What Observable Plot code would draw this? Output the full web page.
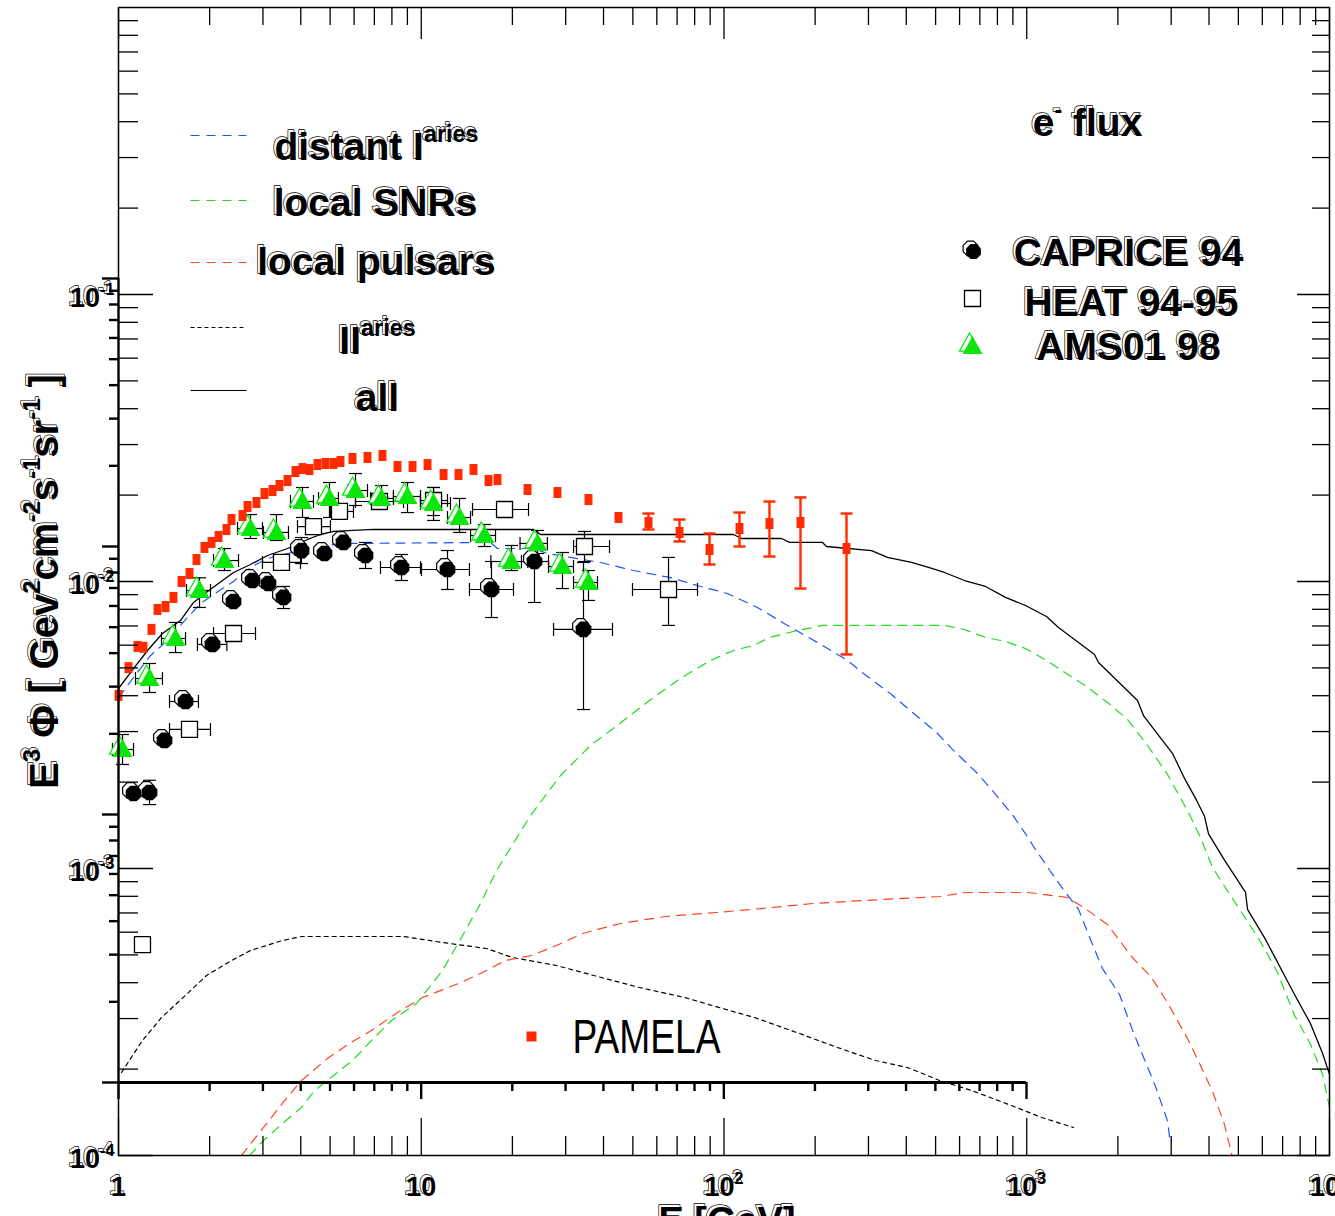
<!DOCTYPE html>
<html><head><meta charset="utf-8">
<script src="https://cdn.jsdelivr.net/npm/d3@7"></script>
<script src="https://cdn.jsdelivr.net/npm/@observablehq/plot@0.6"></script>
<style>
html,body{margin:0;padding:0;background:#fff;overflow:hidden;}
#wrap{position:relative;width:1335px;height:1240px;}
#wrap svg{position:absolute;left:0;top:0;}
</style></head><body><div id="wrap"></div>
<script>
// ---------------- DATA ----------------
// PAMELA e- points
const pamelaE = [1.0,1.079,1.155,1.209,1.285,1.345,1.430,1.519,1.615,1.716,1.810,1.923,2.029,2.140,2.274,2.362,2.568,2.668,2.856,3.035,3.227,3.402,3.616,3.842,4.053,4.275,4.543,4.828,5.131,5.411,5.928,6.644,7.447,8.348,9.357,10.49,11.85,13.28,14.88,16.68,17.86,22.44,28.18,35.68,44.83,56.31,71.29,89.57,112.5,141.3,178.9,253.9];
const pamelaF = [0.00401,0.00501,0.00594,0.00590,0.00681,0.00799,0.00818,0.00880,0.0100,0.01066,0.01193,0.01314,0.01368,0.01435,0.01518,0.01644,0.01698,0.01825,0.01885,0.02025,0.02075,0.02160,0.02248,0.02416,0.02475,0.02455,0.02556,0.02577,0.02577,0.02619,0.02683,0.02705,0.02748,0.02516,0.02516,0.02556,0.02359,0.02359,0.02456,0.02248,0.02266,0.02092,0.02042,0.01931,0.01671,0.01605,0.01482,0.01293,0.0153,0.01592,0.01605,0.01303];
const pamelaErrE  = [56.31,71.29,89.57,112.5,141.3,178.9,253.9];
const pamelaErrLo = [0.01518,0.01379,0.01146,0.01324,0.01222,0.00945,0.00557];
const pamelaErrHi = [0.01725,0.01644,0.0147,0.01739,0.019,0.01963,0.01725];

// CAPRICE 94
const capE = [1.121,1.266,1.419,1.665,2.044,2.398,2.771,3.129,3.508,4.022,4.791,5.536,6.544,8.606,12.21,17.06,23.66,34.35];
const capF = [0.001825,0.00184,0.002793,0.003818,0.006034,0.008518,0.01008,0.00984,0.0088,0.01282,0.01252,0.01368,0.01232,0.01119,0.01101,0.00938,0.01174,0.00681];
const capYLo = [null,0.00167,null,null,null,null,null,null,0.00805,0.01155,null,null,0.0111,0.01008,0.00938,0.00749,0.00845,0.00358];
const capYHi = [null,0.00203,null,null,null,null,null,null,0.00961,0.01423,null,null,0.01368,0.01242,0.01282,0.01174,0.01324,0.01165];
const capXLo = [null,null,null,1.474,1.823,null,null,null,null,null,null,null,null,7.335,10.02,14.43,21.43,27.35];
const capXHi = [null,null,null,1.837,2.28,null,null,null,null,null,null,null,null,9.943,14.43,20.17,26.33,42.83];

// HEAT 94-95
const heatE = [1.200,1.716,2.398,3.454,4.406,5.370,7.278,10.98,18.84,34.61,65.58];
const heatF = [0.000543,0.003051,0.00659,0.01165,0.01554,0.01754,0.019,0.01915,0.01782,0.01324,0.00938];
const heatXLo = [null,1.474,2.060,2.989,3.901,5.013,6.065,9.943,14.77,31.84,49.86];
const heatXHi = [null,2.013,2.835,3.993,5.013,5.972,8.738,12.21,22.61,41.87,81.75];
const heatYLo = [null,null,null,null,null,null,null,0.01698,null,0.01174,0.00703];
const heatYHi = [null,null,null,null,null,null,null,0.02126,null,0.01494,0.01213];

// AMS01 98
const amsE = [1.031,1.266,1.543,1.852,2.239,2.729,3.325,4.053,4.976,6.065,7.391,9.007,10.98,13.38,16.18,19.87,24.21,29.28,35.68];
const amsF = [0.002598,0.004592,0.006331,0.009303,0.01183,0.0153,0.01482,0.019,0.01947,0.02075,0.01947,0.01978,0.0187,0.01671,0.01447,0.01174,0.01357,0.01128,0.00992];
const amsXLo = [0.955,1.138,1.387,1.677,2.06,2.472,3.012,3.699,4.578,5.733,6.8,8.094,9.943,12.21,14.55,16.98,21.2,26.33,31.84];
const amsXHi = [1.121,1.397,1.665,2.013,2.491,2.989,3.643,4.406,5.327,6.644,8.094,9.943,12.49,14.55,17.59,22.49,26.1,31.84,38.21];
const amsYLo = [0.002304,0.004104,0.005656,0.00812,0.01092,0.01412,0.0139,0.01671,0.01671,0.0184,0.01811,0.01739,0.01632,0.01482,0.01324,0.01092,0.01252,0.00945,0.00859];
const amsYHi = [0.00293,0.005179,0.007198,0.0103,0.01303,0.01711,0.01711,0.02126,0.02213,0.02378,0.0216,0.02213,0.02126,0.01947,0.0158,0.01335,0.01506,0.01262,0.01092];

// model curves
const allE = [1.0,1.121,1.247,1.397,1.602,1.769,1.968,2.398,2.729,3.106,3.616,4.210,4.648,5.131,6.955,12.49,23.49,24.77,107.5,114.2,154.9,164.6,211.5,218.1,307,346.7,416.2,473.7,534.9,622.9,730.7,850.8,990.6,1162,1273,1438,1674,1726,2322,2430,2745,3029,3320,3637,3865,3985,4500,5280,5361,6146,7157,7664,8656,9483,10000];
const allF = [0.004238,0.004975,0.005749,0.00659,0.007312,0.00845,0.009231,0.01075,0.01146,0.01232,0.01303,0.01401,0.01458,0.01494,0.01518,0.01518,0.01518,0.01458,0.01458,0.01412,0.01412,0.01368,0.01368,0.01324,0.01282,0.01213,0.01165,0.01119,0.01075,0.01008,0.00961,0.0088,0.00825,0.00755,0.00691,0.00628,0.00557,0.00522,0.00385,0.00341,0.00288,0.00252,0.00206,0.00173,0.00152,0.00132,0.00107,0.000825,0.00072,0.000566,0.000417,0.000364,0.000288,0.000227,0.000192];

const distE = [1.000,1.121,1.276,1.451,1.690,1.866,2.060,2.398,2.587,2.878,3.251,3.616,4.307,5.131,5.972,16.93,17.86,23.49,26.12,31.12,39.09,50.24,66.58,83.61,102.7,129.0,162.1,203.6,255.8,289.0,357.5,416.2,503.3,568.6,682.3,776.9,904.4,990.6,1053,1198,1313,1483,1624,1779,2025,2218,2430,2663,2917,2962];
const distF = [0.003944,0.004629,0.005524,0.006229,0.007492,0.008382,0.00901,0.01,0.01075,0.01155,0.01222,0.01252,0.01303,0.01345,0.01357,0.01368,0.01303,0.01303,0.01252,0.01213,0.01165,0.01092,0.01032,0.00961,0.00908,0.00812,0.00703,0.00613,0.00531,0.00478,0.00404,0.00352,0.00298,0.0026,0.00216,0.00185,0.00152,0.00132,0.001193,0.000976,0.000852,0.00072,0.000566,0.000448,0.000364,0.000279,0.00022,0.000174,0.000132,0.000116];

const snrE = [2.709,3.012,3.671,4.022,4.441,5.131,5.928,6.848,7.975,9.645,11.75,13.58,15.70,17.73,22.96,28.84,36.22,48.00,58.50,70.21,79.30,90.25,107.5,125.2,141.3,169.7,211.5,534.9,622.9,730.7,850.8,990.6,1162,1353,1576,1848,2152,2506,2917,3422,3749,4108,4640,5280,5964,6735,7664,8656,9483,10000];
const snrF = [0.0001,0.0001128,0.0001357,0.000147,0.0001685,0.00019,0.0002143,0.0002516,0.0002954,0.0003385,0.0004412,0.0005749,0.0007551,0.000984,0.00153,0.002109,0.002683,0.003358,0.003944,0.004519,0.004896,0.00531,0.005749,0.005984,0.006381,0.006694,0.00703,0.00703,0.006804,0.006381,0.006179,0.005843,0.00531,0.00478,0.004306,0.003789,0.003305,0.002683,0.002126,0.001567,0.001282,0.001008,0.000825,0.00067,0.000548,0.000434,0.000308,0.000244,0.000192,0.000147];

const pulsE = [2.548,3.012,3.561,4.022,4.901,5.794,6.848,8.348,10.10,13.28,15.70,18.98,23.13,27.97,34.09,45.51,64.10,94.45,133.0,196.0,289.0,515.0,627.6,1014,1363,1576,1848,2218,2584,2917,3422,3749,4108,4500,4820];
const pulsF = [0.0001,0.0001252,0.0001567,0.0001826,0.0002178,0.0002456,0.0002725,0.000315,0.0003553,0.0003975,0.0004306,0.0004779,0.0004976,0.0005391,0.0005936,0.0006433,0.0006804,0.0007025,0.0007253,0.0007551,0.0007735,0.0007987,0.000825,0.000825,0.0007925,0.00072,0.0006381,0.0004936,0.000417,0.0003412,0.0002516,0.0002059,0.0001671,0.0001282,0.000095];

const iiE = [1.023,1.200,1.387,1.690,1.953,2.362,2.729,3.481,4.022,8.738,11.75,16.43,20.02,27.97,39.39,52.58,74.06,98.86,126.1,177.6,237.1,316.5,403.7,515.0,657.1,924.9,1119,1427];
const iiF = [0.0001946,0.0002516,0.0003025,0.000367,0.0004238,0.0004779,0.0005179,0.0005612,0.0005796,0.0005796,0.0005523,0.0005263,0.0004896,0.0004592,0.000417,0.0003848,0.0003553,0.0003253,0.0003025,0.0002661,0.0002378,0.0002143,0.0002025,0.0001826,0.0001685,0.000147,0.0001357,0.0001252];

// ticks and tick labels
const xMajor = [1,10,100,1000,10000];
const xMinor = [2,3,4,5,6,7,8,9,20,30,40,50,60,70,80,90,200,300,400,500,600,700,800,900,2000,3000,4000,5000,6000,7000,8000,9000];
const xTickLabels = ["1","10","10^{2}","10^{3}","10^{4}"];
const yMajor = [1e-4,1e-3,1e-2,1e-1];
const yMinor = [2e-4,3e-4,4e-4,5e-4,6e-4,7e-4,8e-4,9e-4,2e-3,3e-3,4e-3,5e-3,6e-3,7e-3,8e-3,9e-3,0.02,0.03,0.04,0.05,0.06,0.07,0.08,0.09,0.2,0.3,0.4,0.5,0.6,0.7,0.8,0.9];
const yTickLabels = ["10^{-4}","10^{-3}","10^{-2}","10^{-1}"];
// overlaid PAMELA frame ticks
const pamXMajor = [1,10,100,1000];
const pamXMinor = [2,3,4,5,6,7,8,9,20,30,40,50,60,70,80,90,200,300,400,500,600,700,800,900];
const pamYMajor = [1e-4,1e-3,1e-2,1e-1];
const pamYMinor = [2e-4,3e-4,4e-4,5e-4,6e-4,7e-4,8e-4,9e-4,2e-3,3e-3,4e-3,5e-3,6e-3,7e-3,8e-3,9e-3,0.02,0.03,0.04,0.05,0.06,0.07,0.08,0.09];

// ---------------- STYLE ----------------
const W = 1335, H = 1240;
const FONT = "'Liberation Sans', Arial, Helvetica, sans-serif";
const BLUE = "#2152ff", GREEN = "#1edc1e", RED = "#ff4422", PRED = "#ff2a00", AGREEN = "#0de60d";

const octagon = {draw(c, s){const r=Math.sqrt(s/Math.PI);for(let k=0;k<8;k++){const a=(k+0.5)*Math.PI/4,px=r*Math.cos(a),py=r*Math.sin(a);k?c.lineTo(px,py):c.moveTo(px,py);}c.closePath();}};
const hcap = {draw(c, s){const r=Math.sqrt(s/Math.PI);c.moveTo(-r,0);c.lineTo(r,0);}};
const vcap = {draw(c, s){const r=Math.sqrt(s/Math.PI);c.moveTo(0,-r);c.lineTo(0,r);}};
const box = {draw(c, s){const r=Math.sqrt(s/Math.PI);c.rect(-r,-r,2*r,2*r);}};
const tall = {draw(c, s){const r=Math.sqrt(s/Math.PI);c.rect(-0.72*r,-r,1.44*r,2*r);}};
const tri = {draw(c, s){const r=Math.sqrt(s/Math.PI);c.moveTo(0,-r);c.lineTo(0.95*r,0.72*r);c.lineTo(-0.95*r,0.72*r);c.closePath();}};

const rows = (E, F, ylo, yhi, xlo, xhi) => E.map((e,i)=>({e, f:F[i], ylo: ylo ? ylo[i] : null, yhi: yhi ? yhi[i] : null, xlo: xlo ? xlo[i] : null, xhi: xhi ? xhi[i] : null}));
const pamRows = pamelaE.map((e,i)=>({e, f: pamelaF[i]}));
const pamErrRows = rows(pamelaErrE, pamelaErrE.map(e => pamelaF[pamelaE.indexOf(e)]), pamelaErrLo, pamelaErrHi, null, null);
const capRows = rows(capE, capF, capYLo, capYHi, capXLo, capXHi);
const heatRows = rows(heatE, heatF, heatYLo, heatYHi, heatXLo, heatXHi);
const amsRows = rows(amsE, amsF, amsYLo, amsYHi, amsXLo, amsXHi);

function errorBars(data, color, sw, capR) {
  const yv = data.filter(d => d.ylo != null), xv = data.filter(d => d.xlo != null);
  const c = {stroke: color, strokeWidth: sw, fill: "none"};
  return [
    Plot.ruleX(yv, {x: "e", y1: "ylo", y2: "yhi", stroke: color, strokeWidth: sw}),
    Plot.ruleY(xv, {y: "f", x1: "xlo", x2: "xhi", stroke: color, strokeWidth: sw}),
    Plot.dot(yv, {x: "e", y: "ylo", symbol: hcap, r: capR, ...c}),
    Plot.dot(yv, {x: "e", y: "yhi", symbol: hcap, r: capR, ...c}),
    Plot.dot(xv, {x: "xlo", y: "f", symbol: vcap, r: capR, ...c}),
    Plot.dot(xv, {x: "xhi", y: "f", symbol: vcap, r: capR, ...c})
  ];
}
// text drawn twice: a slightly offset outline copy underneath, then the solid copy
function ghostText(data, o) {
  const base = {fontFamily: FONT, fontWeight: "bold", textAnchor: "middle", lineAnchor: "middle", ...o};
  return [
    Plot.text(data, {...base, fill: "white", stroke: "black", strokeWidth: 1.4, dx: (o.dx || 0) - 2, dy: (o.dy || 0) - 2}),
    Plot.text(data, {...base, fill: "black"})
  ];
}
const legendLine = (dx, dy, stroke, dash) => Plot.dot([0], {frameAnchor: "top-left", dx, dy, symbol: hcap, r: 28, stroke, strokeWidth: 1.2, strokeDasharray: dash, fill: "none"});

const main = Plot.plot({
  width: W, height: H,
  marginLeft: 118, marginRight: 6, marginTop: 7, marginBottom: H - 1155,
  x: {type: "log", domain: [1, 1e4], label: null},
  y: {type: "log", domain: [1e-4, 1], label: null},
  style: {fontFamily: FONT, background: "white", overflow: "visible"},
  marks: [
    // model curves
    Plot.line(iiE, {x: iiE, y: iiF, stroke: "black", strokeWidth: 1.2, strokeDasharray: "4,4", clip: true}),
    Plot.line(pulsE, {x: pulsE, y: pulsF, stroke: RED, strokeWidth: 1.2, strokeDasharray: "9,7", clip: true}),
    Plot.line(snrE, {x: snrE, y: snrF, stroke: GREEN, strokeWidth: 1.2, strokeDasharray: "9,7", clip: true}),
    Plot.line(distE, {x: distE, y: distF, stroke: BLUE, strokeWidth: 1.2, strokeDasharray: "9,7", clip: true}),
    Plot.line(allE, {x: allE, y: allF, stroke: "black", strokeWidth: 1.3, clip: true}),
    // data error bars
    errorBars(capRows, "black", 1.2, 6.5),
    errorBars(heatRows, "black", 1.2, 6.5),
    errorBars(amsRows, "black", 1.2, 6.5),
    errorBars(pamErrRows, PRED, 2.4, 6),
    // markers
    Plot.dot(heatRows, {x: "e", y: "f", symbol: box, r: 8, fill: "white", stroke: "black", strokeWidth: 1.3}),
    Plot.dot(capRows, {x: "e", y: "f", symbol: octagon, r: 8.5, fill: "white", stroke: "black", strokeWidth: 1.2, dx: -3, dy: -3}),
    Plot.dot(capRows, {x: "e", y: "f", symbol: octagon, r: 8.5, fill: "black"}),
    Plot.dot(amsRows, {x: "e", y: "f", symbol: tri, r: 10.5, fill: "white", stroke: AGREEN, strokeWidth: 1.3, dx: -3, dy: -3}),
    Plot.dot(amsRows, {x: "e", y: "f", symbol: tri, r: 10.5, fill: AGREEN}),
    Plot.dot(pamRows, {x: "e", y: "f", symbol: tall, r: 5.5, fill: PRED}),
    // frame & inward ticks (ROOT style)
    Plot.frame({stroke: "black", strokeWidth: 1.5}),
    Plot.axisX(xMajor, {anchor: "bottom", tickSize: -37, fill: "none", stroke: "black", strokeWidth: 1.3}),
    Plot.axisX(xMinor, {anchor: "bottom", tickSize: -19, fill: "none", stroke: "black", strokeWidth: 1.3}),
    Plot.axisX(xMajor, {anchor: "top", tickSize: -31, fill: "none", stroke: "black", strokeWidth: 1.3}),
    Plot.axisX(xMinor, {anchor: "top", tickSize: -17, fill: "none", stroke: "black", strokeWidth: 1.3}),
    Plot.axisY(yMajor, {anchor: "left", tickSize: -35, fill: "none", stroke: "black", strokeWidth: 1.3}),
    Plot.axisY(yMinor, {anchor: "left", tickSize: -20, fill: "none", stroke: "black", strokeWidth: 1.3}),
    Plot.axisY(yMajor, {anchor: "right", tickSize: -33, fill: "none", stroke: "black", strokeWidth: 1.3}),
    Plot.axisY(yMinor, {anchor: "right", tickSize: -18, fill: "none", stroke: "black", strokeWidth: 1.3}),
    // tick labels
    ghostText(xMajor, {x: d => d, frameAnchor: "bottom", dy: 32, text: (d, i) => xTickLabels[i], fontSize: 27}),
    ghostText(yMajor, {y: d => d, frameAnchor: "left", dx: -4, dy: 4, text: (d, i) => yTickLabels[i], fontSize: 27, textAnchor: "end"}),
    // axis titles
    ghostText(["E [GeV]"], {frameAnchor: "bottom", dx: 3, dy: 66, fontSize: 38}),
    ghostText(["E^{3} \u03A6 [ Gev^{2}cm^{-2}s^{-1}sr^{-1} ]"], {frameAnchor: "left", dx: -73, dy: 0, rotate: -90, fontSize: 40}),
    // legend: model curves
    legendLine(100, 128, BLUE, "9,7"),
    legendLine(100, 193, GREEN, "9,7"),
    legendLine(100, 255, RED, "9,7"),
    legendLine(100, 320, "black", "4,3"),
    legendLine(100, 383, "black", null),
    ghostText(["distant I^{aries}"], {frameAnchor: "top-left", dx: 258, dy: 140, fontSize: 39}),
    ghostText(["local SNRs"], {frameAnchor: "top-left", dx: 257, dy: 196, fontSize: 39}),
    ghostText(["local pulsars"], {frameAnchor: "top-left", dx: 258, dy: 255, fontSize: 39}),
    ghostText(["II^{aries}"], {frameAnchor: "top-left", dx: 259, dy: 334, fontSize: 39}),
    ghostText(["all"], {frameAnchor: "top-left", dx: 259, dy: 391, fontSize: 39}),
    // legend: data sets
    ghostText(["e^{-} flux"], {frameAnchor: "top-left", dx: 969, dy: 116, fontSize: 39}),
    Plot.dot([0], {frameAnchor: "top-left", dx: 852, dy: 241, symbol: octagon, r: 8, fill: "white", stroke: "black", strokeWidth: 1.2}),
    Plot.dot([0], {frameAnchor: "top-left", dx: 855, dy: 244, symbol: octagon, r: 8, fill: "black"}),
    Plot.dot([0], {frameAnchor: "top-left", dx: 854, dy: 291, symbol: box, r: 8, fill: "white", stroke: "black", strokeWidth: 1.3}),
    Plot.dot([0], {frameAnchor: "top-left", dx: 851, dy: 336, symbol: tri, r: 10.5, fill: "white", stroke: AGREEN, strokeWidth: 1.3}),
    Plot.dot([0], {frameAnchor: "top-left", dx: 854, dy: 339, symbol: tri, r: 10.5, fill: AGREEN}),
    ghostText(["CAPRICE 94"], {frameAnchor: "top-left", dx: 1010, dy: 246, fontSize: 39}),
    ghostText(["HEAT 94-95"], {frameAnchor: "top-left", dx: 1013, dy: 296, fontSize: 39}),
    ghostText(["AMS01 98"], {frameAnchor: "top-left", dx: 1010, dy: 340, fontSize: 39}),
    Plot.dot([0], {frameAnchor: "top-left", dx: 413, dy: 1029, symbol: box, r: 5, fill: PRED}),
    Plot.text(["PAMELA"], {frameAnchor: "top-left", dx: 454, dy: 1030, fontSize: 48, fontFamily: FONT, textAnchor: "start", lineAnchor: "middle", fill: "black"})
  ]
});

// overlaid PAMELA frame (second pad): its own bottom and left axes
const over = Plot.plot({
  width: W, height: H,
  marginLeft: 118, marginRight: W - 1026, marginTop: 278, marginBottom: H - 1082,
  x: {type: "log", domain: [1, 1000], label: null},
  y: {type: "log", domain: [1e-4, 0.1], label: null},
  style: {background: "transparent", overflow: "visible"},
  marks: [
    Plot.ruleY([1e-4], {stroke: "black", strokeWidth: 3}),
    Plot.ruleX([1], {stroke: "black", strokeWidth: 2.2}),
    Plot.axisX(pamXMajor, {anchor: "bottom", tickSize: 17, fill: "none", stroke: "black", strokeWidth: 2.4}),
    Plot.axisX(pamXMinor, {anchor: "bottom", tickSize: 9, fill: "none", stroke: "black", strokeWidth: 2.4}),
    Plot.axisY(pamYMajor, {anchor: "left", tickSize: 16, fill: "none", stroke: "black", strokeWidth: 2.4}),
    Plot.axisY(pamYMinor, {anchor: "left", tickSize: 9, fill: "none", stroke: "black", strokeWidth: 2.4})
  ]
});

const wrap = document.getElementById("wrap");
wrap.append(main, over);

// rich text: ^{...} -> superscript tspans; condensed PAMELA label
function richify(svg) {
  svg.querySelectorAll("text").forEach(t => {
    const s = t.textContent;
    if (s === "PAMELA") { t.setAttribute("textLength", 148); t.setAttribute("lengthAdjust", "spacingAndGlyphs"); return; }
    if (!s.includes("^{")) return;
    const fs = parseFloat(getComputedStyle(t).fontSize);
    const supSize = fs * 0.6, rise = fs * 0.45;
    while (t.firstChild) t.removeChild(t.firstChild);
    const re = /\^\{([^}]*)\}/g;
    let last = 0, m, raised = false;
    const add = (str, isSup) => {
      if (!str) return;
      const ts = document.createElementNS("http://www.w3.org/2000/svg", "tspan");
      ts.textContent = str;
      if (isSup) { ts.setAttribute("font-size", supSize); ts.setAttribute("dy", -rise); raised = true; }
      else if (raised) { ts.setAttribute("dy", rise); raised = false; }
      t.appendChild(ts);
    };
    while ((m = re.exec(s))) { add(s.slice(last, m.index), false); add(m[1], true); last = re.lastIndex; }
    add(s.slice(last), false);
  });
}
richify(main);
richify(over);
</script></body></html>
